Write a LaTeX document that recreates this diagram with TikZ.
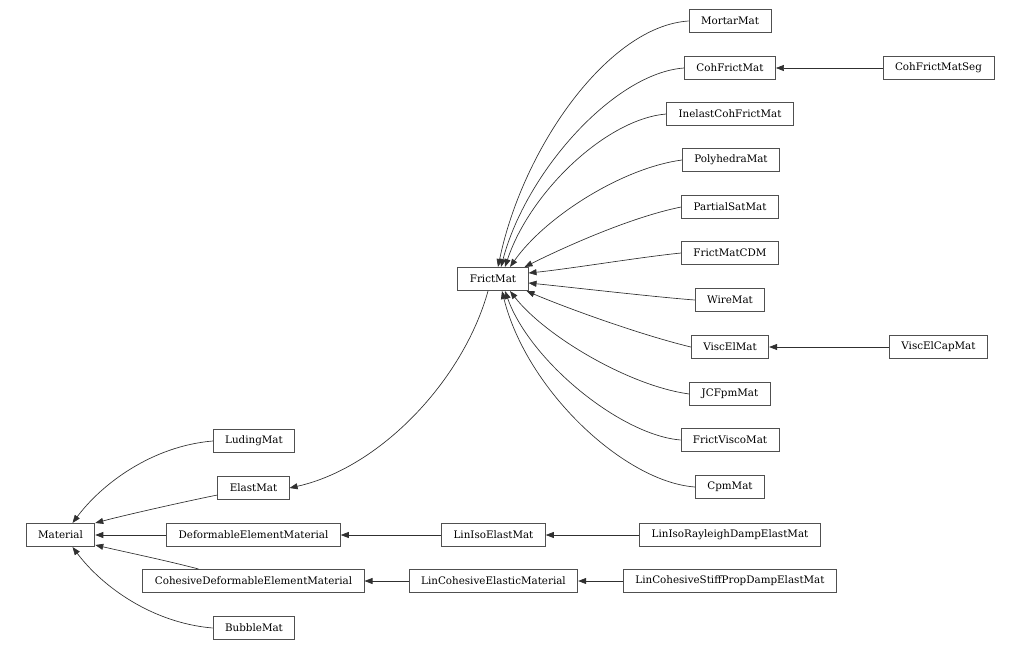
\documentclass[tikz,border=0pt]{standalone}
\usepackage{fontspec}
\setmainfont{DejaVu Serif}
\usepackage{tikz}
\usetikzlibrary{calc, arrows.meta, positioning}
\definecolor{edgecol}{HTML}{303030}
\definecolor{framecol}{HTML}{505050}

\begin{document}
\begin{tikzpicture}[
    x=0.75pt, y=-0.75pt,
    cls/.style={draw=framecol, line width=0.6pt, fill=white, minimum height=17.4pt, inner xsep=9pt, inner ysep=0pt, font=\fontsize{7.75}{9}\selectfont},
    inherit/.style={-{Triangle[length=6pt, width=4.5pt]}, line width=0.5pt, color=edgecol}
]
\useasboundingbox (0,0) rectangle (1018,650);

\node[cls] (material) at (60.5,535) {Material};
\node[cls] (luding) at (254,441) {LudingMat};
\node[cls] (elast) at (253.5,488) {ElastMat};
\node[cls] (deform) at (253.5,535) {DeformableElementMaterial};
\node[cls] (cohdeform) at (253.5,581) {CohesiveDeformableElementMaterial};
\node[cls] (bubble) at (254,628) {BubbleMat};
\node[cls] (frict) at (493,279) {FrictMat};
\node[cls] (liniso) at (493.5,535) {LinIsoElastMat};
\node[cls] (lincoh) at (493.5,581) {LinCohesiveElasticMaterial};
\node[cls] (mortar) at (730,21) {MortarMat};
\node[cls] (cohfrict) at (730,68) {CohFrictMat};
\node[cls] (inelast) at (730,114) {InelastCohFrictMat};
\node[cls] (polyhedra) at (731,160) {PolyhedraMat};
\node[cls] (partialsat) at (730,207) {PartialSatMat};
\node[cls] (cdm) at (730,253) {FrictMatCDM};
\node[cls] (wire) at (730,300) {WireMat};
\node[cls] (viscel) at (730,347) {ViscElMat};
\node[cls] (jcfpm) at (730,394) {JCFpmMat};
\node[cls] (fvisco) at (730,440) {FrictViscoMat};
\node[cls] (cpm) at (730,487) {CpmMat};
\node[cls] (linisoray) at (730,535) {LinIsoRayleighDampElastMat};
\node[cls] (lincohstiff) at (730,581) {LinCohesiveStiffPropDampElastMat};
\node[cls] (cohfrictseg) at (938.5,68) {CohFrictMatSeg};
\node[cls] (visccap) at (938.5,347) {ViscElCapMat};

\draw[inherit] (luding.west) .. controls +(-60,5) and +(30,-40) .. ($(material.north)+(12,0)$);
\draw[inherit] ($(elast.west)+(0,7)$) .. controls +(-30,6) and +(30,-8) .. (material.north east);
\draw[inherit] (deform) -- (material);
\draw[inherit] ($(cohdeform.north)+(-55,0)$) .. controls +(-30,-8) and +(30,7) .. ($(material.south east)+(0,-2)$);
\draw[inherit] (bubble.west) .. controls +(-60,-5) and +(30,40) .. ($(material.south)+(12,0)$);

\draw[inherit] ($(frict.south)+(-5,0)$) .. controls +(-25,90) and +(90,-20) .. (elast.east);
\draw[inherit] (liniso) -- (deform);
\draw[inherit] (lincoh) -- (cohdeform);
\draw[inherit] (linisoray) -- (liniso);
\draw[inherit] (lincohstiff) -- (lincoh);

\draw[inherit] (mortar.west) .. controls +(-80,5) and +(25,-120) .. ($(frict.north)+(5,0)$);
\draw[inherit] (cohfrict.west) .. controls +(-70,5) and +(25,-95) .. ($(frict.north)+(8,0)$);
\draw[inherit] (inelast.west) .. controls +(-60,5) and +(25,-75) .. ($(frict.north)+(12,0)$);
\draw[inherit] (polyhedra.west) .. controls +(-60,8) and +(35,-50) .. ($(frict.north)+(17,0)$);
\draw[inherit] (partialsat.west) .. controls +(-50,10) and +(40,-20) .. ($(frict.north east)+(-4,0)$);
\draw[inherit] (cdm.west) .. controls +(-40,4) and +(40,-4) .. ($(frict.east)+(0,-6)$);
\draw[inherit] (wire.west) .. controls +(-40,-3) and +(40,4) .. ($(frict.east)+(0,4)$);
\draw[inherit] (viscel.west) .. controls +(-50,-12) and +(40,17) .. ($(frict.south east)+(-2,0)$);
\draw[inherit] (jcfpm.west) .. controls +(-60,-8) and +(35,45) .. ($(frict.south)+(17,0)$);
\draw[inherit] (fvisco.west) .. controls +(-60,-5) and +(25,70) .. ($(frict.south)+(12,0)$);
\draw[inherit] (cpm.west) .. controls +(-70,-5) and +(25,100) .. ($(frict.south)+(9,0)$);

\draw[inherit] (cohfrictseg) -- (cohfrict);
\draw[inherit] (visccap) -- (viscel);
\end{tikzpicture}
\end{document}
